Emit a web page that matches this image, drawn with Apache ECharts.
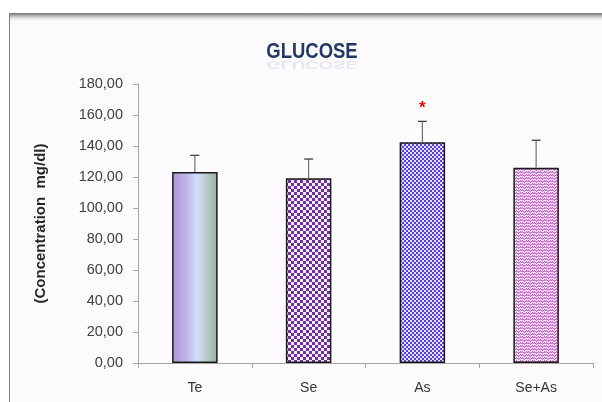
<!DOCTYPE html>
<html>
<head>
<meta charset="utf-8">
<script src="https://cdn.jsdelivr.net/npm/echarts@6/dist/echarts.min.js"></script>
<style>
  html, body { margin: 0; padding: 0; background: #ffffff; }
  #chart { width: 602px; height: 402px; }
</style>
</head>
<body>
<div id="chart"></div>
<script>
// Glucose concentration per group (mg/dl), mean and standard deviation
const categories = ['Te', 'Se', 'As', 'Se+As'];
const means = [123.2, 119.2, 142.4, 126.0];
const errors = [10.8, 12.4, 13.5, 17.7];
const significance = ['', '', '*', ''];
const yTicks = { min: 0, max: 180, interval: 20 };

// Small tiled canvases used as bar fill patterns
function makeTile(size, draw) {
  const c = document.createElement('canvas');
  c.width = size; c.height = size;
  draw(c.getContext('2d'));
  return c;
}
const largeChecker = makeTile(6, (g) => {
  g.fillStyle = '#f4eefa'; g.fillRect(0, 0, 6, 6);
  g.fillStyle = '#7030a0';
  g.fillRect(0, 0, 3, 3); g.fillRect(3, 3, 3, 3);
});
const smallChecker = makeTile(4, (g) => {
  g.fillStyle = '#e4e0ff'; g.fillRect(0, 0, 4, 4);
  g.fillStyle = '#5a3fd4';
  g.fillRect(0, 0, 2, 2); g.fillRect(2, 2, 2, 2);
});
const zigzag = makeTile(6, (g) => {
  g.fillStyle = '#f3def2'; g.fillRect(0, 0, 6, 6);
  g.fillStyle = '#bb62c0';
  const pts = [[0,0],[1,1],[2,2],[3,1],[4,0],[5,1],
               [0,3],[1,4],[2,5],[3,4],[4,3],[5,4]];
  pts.forEach(p => g.fillRect(p[0], p[1], 1, 1));
  g.fillStyle = '#d698d8';
  const pts2 = [[0,1],[2,1],[4,1],[0,4],[2,4],[4,4]];
  pts2.forEach(p => g.fillRect(p[0], p[1], 1, 1));
});

const fills = [
  { type: 'linear', x: 0, y: 0, x2: 1, y2: 0, colorStops: [
    { offset: 0, color: '#b195d2' },
    { offset: 0.3, color: '#bfb3ea' },
    { offset: 0.55, color: '#d3defa' },
    { offset: 0.8, color: '#b3c4c4' },
    { offset: 1, color: '#98b09c' } ] },
  { image: largeChecker, repeat: 'repeat' },
  { image: smallChecker, repeat: 'repeat' },
  { image: zigzag, repeat: 'repeat' }
];

const uiFont = '"Liberation Sans", sans-serif';
const chart = echarts.init(document.getElementById('chart'), null, { renderer: 'canvas' });

chart.setOption({
  animation: false,
  backgroundColor: '#ffffff',
  graphic: [
    { type: 'rect', z: -10, shape: { x: 9.5, y: 13.5, width: 700, height: 500 },
      style: { fill: '#fdfbfe', stroke: '#7f7f7f', lineWidth: 1 } },
    { type: 'rect', z: -9, shape: { x: 10, y: 14, width: 700, height: 8 },
      style: { fill: { type: 'linear', x: 0, y: 0, x2: 0, y2: 1, colorStops: [
        { offset: 0, color: '#858585' }, { offset: 1, color: 'rgba(253,251,254,0)' } ] } } },
    // chart title, slightly condensed, with a faint reflection underneath
    { type: 'text', x: 312, y: 59, z: 9, scaleX: 0.84, scaleY: -0.5,
      style: { text: 'GLUCOSE', fill: 'rgba(31,56,100,0.10)', align: 'center', verticalAlign: 'bottom',
        font: 'bold 22px ' + uiFont } },
    { type: 'text', x: 312, y: 52, z: 10, scaleX: 0.84,
      style: { text: 'GLUCOSE', fill: '#1f3864', align: 'center', verticalAlign: 'middle',
        font: 'bold 22px ' + uiFont } }
  ],
  grid: { left: 138, right: 9, top: 84, bottom: 39, containLabel: false },
  xAxis: {
    type: 'category',
    data: categories,
    boundaryGap: true,
    axisLine: { lineStyle: { color: '#a6a6a6', width: 1 } },
    axisTick: { show: true, alignWithLabel: false, length: 5, lineStyle: { color: '#a6a6a6' } },
    axisLabel: { color: '#333333', fontSize: 14, margin: 18, fontFamily: uiFont }
  },
  yAxis: {
    type: 'value',
    min: yTicks.min, max: yTicks.max, interval: yTicks.interval,
    name: '(Concentration  mg/dl)',
    nameLocation: 'middle',
    nameGap: 90,
    nameTextStyle: { color: '#262626', fontSize: 15, fontWeight: 'bold', fontFamily: uiFont },
    axisLine: { show: true, lineStyle: { color: '#a6a6a6', width: 1 } },
    axisTick: { show: true, length: 5, lineStyle: { color: '#a6a6a6' } },
    splitLine: { show: false },
    axisLabel: { color: '#404040', fontSize: 14.5, margin: 15, fontFamily: uiFont,
      formatter: (v) => v.toFixed(2).replace('.', ',') }
  },
  series: [
    {
      type: 'bar',
      barWidth: '40%',
      data: means.map((v, i) => ({
        value: v,
        itemStyle: { color: fills[i], borderColor: '#1a1a1a', borderWidth: 1.5 }
      }))
    },
    {
      type: 'custom',
      z: 5,
      data: means.map((v, i) => [i, v, errors[i]]),
      renderItem: (params, api) => {
        const x = api.value(0);
        const mean = api.value(1);
        const err = api.value(2);
        const base = api.coord([x, mean]);
        const top = api.coord([x, mean + err]);
        const half = 4.5;
        const children = [
          { type: 'line', shape: { x1: base[0], y1: base[1], x2: top[0], y2: top[1] },
            style: { stroke: '#707070', lineWidth: 1.2 } },
          { type: 'line', shape: { x1: top[0] - half, y1: top[1], x2: top[0] + half, y2: top[1] },
            style: { stroke: '#333333', lineWidth: 1.2 } }
        ];
        const mark = significance[params.dataIndex];
        if (mark) {
          children.push({ type: 'text', x: top[0], y: top[1] - 13,
            style: { text: mark, fill: '#ff0000', font: 'bold 17px ' + uiFont,
              align: 'center', verticalAlign: 'middle' } });
        }
        return { type: 'group', children };
      }
    }
  ]
});
</script>
</body>
</html>
